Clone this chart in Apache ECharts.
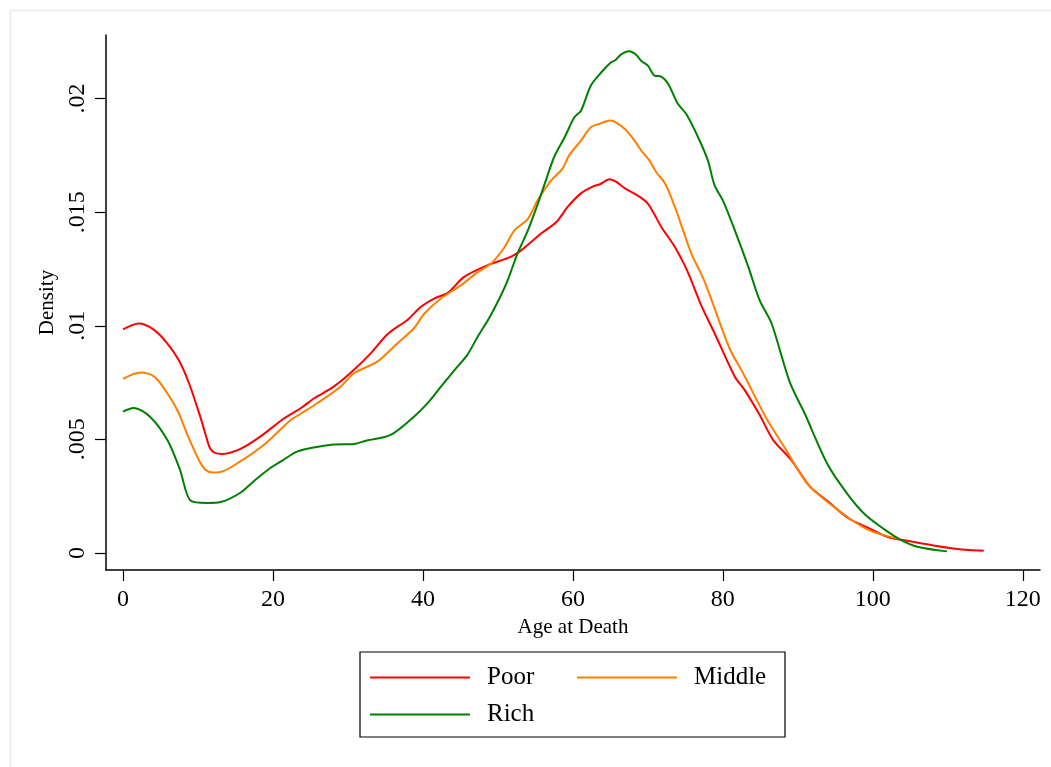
<!DOCTYPE html>
<html>
<head>
<meta charset="utf-8">
<script src="https://cdn.jsdelivr.net/npm/echarts@6/dist/echarts.min.js"></script>
<style>
html,body{margin:0;padding:0;background:#fff;}
#c{width:1051px;height:767px;}
</style>
</head>
<body>
<div id="c"></div>
<script>
const seriesNames = ['Poor', 'Middle', 'Rich'];
const xTicks = [0, 20, 40, 60, 80, 100, 120];
const yTicks = [0, 0.005, 0.01, 0.015, 0.02];

const agePoor = [0, 2.1, 4.0, 5.9, 7.5, 8.8, 10.3, 11.2, 11.6, 12.2, 13.2, 15.6, 18.3, 21.5, 23.7, 25.5, 28.1, 30.4, 33.1, 35.3, 38.0, 39.7, 41.5, 43.3, 45.5, 48.6, 51.7, 53.1, 55.8, 57.8, 59.3, 61.1, 62.7, 63.6, 64.9, 65.8, 66.9, 68.6, 70.0, 71.8, 73.6, 74.9, 75.6, 77.1, 78.9, 81.6, 82.9, 84.9, 86.7, 89.1, 91.6, 94.0, 96.7, 99.4, 102.0, 103.8, 108.3, 111.9, 114.8];
const densPoor = [0.00984, 0.0101, 0.00985, 0.00923, 0.00845, 0.00747, 0.0060, 0.0050, 0.00461, 0.00442, 0.00436, 0.00457, 0.00512, 0.00593, 0.00637, 0.00681, 0.00732, 0.00794, 0.00881, 0.00964, 0.01028, 0.01083, 0.0112, 0.01145, 0.01215, 0.01266, 0.01303, 0.01332, 0.01407, 0.01457, 0.01523, 0.01584, 0.01614, 0.01623, 0.01645, 0.01633, 0.01606, 0.01574, 0.01538, 0.01435, 0.01347, 0.01267, 0.01215, 0.01091, 0.00967, 0.00776, 0.00718, 0.00608, 0.00498, 0.0041, 0.00293, 0.00227, 0.00154, 0.0011, 0.0007, 0.00058, 0.00032, 0.00015, 0.0001];

const ageMiddle = [0, 2.3, 4.2, 5.9, 7.3, 8.5, 10.1, 11.0, 11.9, 13.0, 15.6, 18.8, 22.4, 23.8, 25.9, 29.0, 30.8, 33.9, 36.6, 38.8, 40.2, 42.4, 45.1, 47.3, 49.1, 50.9, 52.2, 54.0, 55.3, 57.1, 58.6, 59.5, 61.1, 62.4, 63.8, 64.9, 65.5, 66.9, 68.2, 69.1, 70.2, 71.1, 72.3, 73.6, 74.7, 75.8, 77.4, 78.5, 80.9, 82.7, 85.8, 88.3, 91.4, 95.9, 99.4, 103.4];
const densMiddle = [0.00766, 0.00794, 0.00775, 0.00703, 0.00625, 0.00527, 0.0041, 0.00366, 0.00354, 0.00356, 0.00402, 0.00476, 0.00586, 0.00615, 0.00659, 0.00732, 0.00791, 0.00842, 0.00923, 0.00989, 0.01054, 0.0112, 0.01179, 0.01236, 0.01274, 0.01347, 0.0142, 0.01471, 0.01552, 0.0164, 0.01691, 0.0175, 0.01816, 0.01874, 0.01892, 0.01904, 0.019, 0.01867, 0.01816, 0.01772, 0.01728, 0.01677, 0.01626, 0.01523, 0.0142, 0.01318, 0.01208, 0.01113, 0.009, 0.00791, 0.00593, 0.00461, 0.003, 0.00176, 0.00102, 0.00062];

const ageRich = [0, 1.4, 3.6, 5.9, 7.6, 9.0, 11.2, 13.0, 15.6, 17.4, 19.6, 21.4, 23.2, 25.4, 28.1, 30.8, 32.5, 35.7, 38.8, 40.8, 42.4, 44.6, 45.9, 47.3, 48.8, 50.2, 51.3, 52.6, 54.0, 55.3, 56.4, 57.5, 58.9, 60.2, 61.1, 62.4, 63.8, 65.1, 65.7, 66.4, 67.5, 68.4, 69.1, 70.0, 70.9, 71.8, 72.7, 74.0, 75.1, 76.7, 78.0, 78.9, 80.0, 81.6, 83.4, 84.9, 86.5, 88.9, 90.9, 94.0, 96.7, 99.0, 101.5, 103.7, 106.1, 109.9];
const densRich = [0.00622, 0.00638, 0.0060, 0.00498, 0.00366, 0.00231, 0.0022, 0.00224, 0.00264, 0.00315, 0.00373, 0.0041, 0.00446, 0.00464, 0.00477, 0.0048, 0.00495, 0.0052, 0.006, 0.00666, 0.00732, 0.0082, 0.00871, 0.00952, 0.01032, 0.0112, 0.012, 0.01317, 0.0142, 0.01535, 0.0164, 0.01743, 0.0183, 0.01918, 0.01948, 0.02058, 0.02116, 0.0216, 0.0217, 0.02194, 0.02208, 0.02194, 0.02167, 0.02145, 0.02101, 0.02097, 0.02065, 0.01977, 0.01933, 0.0183, 0.01728, 0.01618, 0.01552, 0.0142, 0.01259, 0.01113, 0.0101, 0.00754, 0.00615, 0.00388, 0.00256, 0.00168, 0.00105, 0.00058, 0.00026, 0.00007];

const colors = ['#ff0000', '#ff8000', '#008000'];
const pairs = (xs, ys) => xs.map((x, i) => [x, ys[i]]);
const allData = [pairs(agePoor, densPoor), pairs(ageMiddle, densMiddle), pairs(ageRich, densRich)];

const font = 'Liberation Serif, Times New Roman, serif';
const chart = echarts.init(document.getElementById('c'));
chart.setOption({
  backgroundColor: '#ffffff',
  animation: false,
  graphic: [{
    type: 'rect', left: 8, top: 8, silent: true,
    shape: { width: 1100, height: 800 },
    style: { fill: 'none', stroke: '#e3ebeb', lineWidth: 1.5 }
  }],
  grid: { left: 106, right: 11, top: 35, bottom: 197, containLabel: false },
  xAxis: {
    type: 'value', min: -2.27, max: 122.3,
    name: 'Age at Death', nameLocation: 'middle', nameGap: 40,
    nameTextStyle: { fontFamily: font, fontSize: 21, color: '#000' },
    axisLine: { show: true, onZero: false, lineStyle: { color: '#000', width: 1.5 } },
    axisTick: { show: true, length: 11, customValues: xTicks, lineStyle: { color: '#000', width: 1.2 } },
    axisLabel: { customValues: xTicks, margin: 18, fontFamily: font, fontSize: 24, color: '#000' },
    splitLine: { show: false }
  },
  yAxis: {
    type: 'value', min: -0.00075, max: 0.0228,
    name: 'Density', nameLocation: 'middle', nameGap: 48, nameRotate: 90,
    nameTextStyle: { fontFamily: font, fontSize: 21, color: '#000' },
    axisLine: { show: true, onZero: false, lineStyle: { color: '#000', width: 1.5 } },
    axisTick: { show: true, length: 11, customValues: yTicks, lineStyle: { color: '#000', width: 1.2 } },
    axisLabel: {
      customValues: yTicks, rotate: 90, margin: 16, fontFamily: font, fontSize: 24, color: '#000',
      formatter: v => v === 0 ? '0' : String(+v.toFixed(4)).replace(/^0/, '')
    },
    splitLine: { show: false }
  },
  legend: {
    data: seriesNames,
    left: 360, top: 652, width: 410,
    orient: 'horizontal',
    icon: 'rect',
    padding: [13, 13, 10, 10],
    borderColor: '#000', borderWidth: 1.2, borderRadius: 0,
    itemWidth: 100, itemHeight: 2, itemGap: 12,
    textStyle: { fontFamily: font, fontSize: 25, color: '#000', width: 78, lineHeight: 25, padding: [0, 0, 0, 12] }
  },
  series: allData.map((d, i) => ({
    name: seriesNames[i], type: 'line', data: d,
    showSymbol: false, symbol: 'none', smooth: 0.3,
    lineStyle: { color: colors[i], width: 2 },
    itemStyle: { color: colors[i] }
  }))
});
</script>
</body>
</html>
